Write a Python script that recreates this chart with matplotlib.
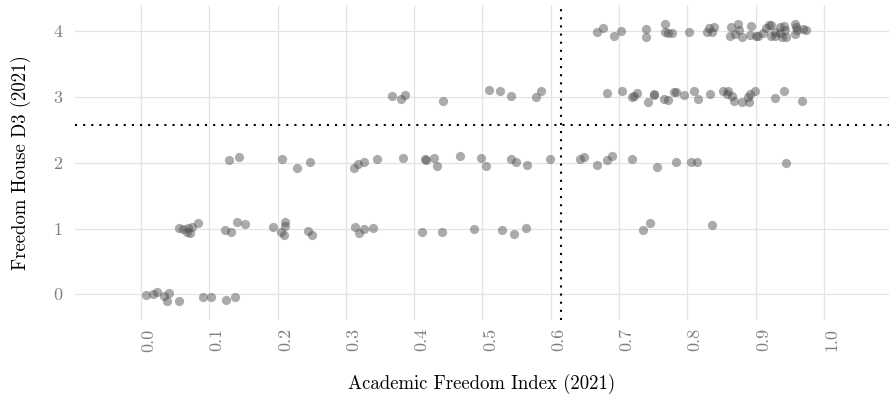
import matplotlib
matplotlib.use("Agg")
import matplotlib.pyplot as plt
import numpy as np

# ---- data (vertical jitter as it appears) ----
row0_x = [0.008, 0.017, 0.023, 0.034, 0.041, 0.038, 0.056, 0.091, 0.102, 0.124, 0.138]
row0_y = [-0.011, 0.005, 0.030, -0.026, 0.015, -0.102, -0.097, -0.041, -0.046, -0.091, -0.041]

row1_x = [0.056, 0.062, 0.069, 0.075, 0.068, 0.072, 0.084, 0.123, 0.132, 0.140, 0.153,
          0.194, 0.211, 0.211, 0.205, 0.209, 0.244, 0.250, 0.314, 0.319, 0.327, 0.339,
          0.411, 0.441, 0.488, 0.528, 0.546, 0.564, 0.735, 0.746, 0.836]
row1_y = [1.013, 0.993, 1.013, 1.016, 0.940, 0.932, 1.081, 0.978, 0.944, 1.095, 1.069,
          1.016, 1.097, 1.039, 0.944, 0.906, 0.967, 0.905, 1.028, 0.928, 0.993, 1.004,
          0.952, 0.952, 0.993, 0.983, 0.917, 1.004, 0.978, 1.077, 1.049]

row2_x = [0.129, 0.143, 0.206, 0.228, 0.247, 0.312, 0.318, 0.327, 0.345, 0.384, 0.416,
          0.417, 0.429, 0.433, 0.467, 0.498, 0.505, 0.542, 0.549, 0.565, 0.599, 0.643,
          0.649, 0.668, 0.682, 0.690, 0.719, 0.755, 0.784, 0.805, 0.814, 0.945]
row2_y = [2.043, 2.088, 2.058, 1.921, 2.008, 1.925, 1.986, 2.017, 2.058, 2.073, 2.058,
          2.050, 2.073, 1.947, 2.099, 2.073, 1.956, 2.053, 2.017, 1.967, 2.058, 2.058,
          2.088, 1.967, 2.043, 2.099, 2.053, 1.932, 2.012, 2.008, 2.012, 1.992]

row3_x = [0.368, 0.380, 0.386, 0.442, 0.509, 0.526, 0.542, 0.579, 0.585, 0.683, 0.704,
          0.719, 0.722, 0.726, 0.742, 0.751, 0.751, 0.766, 0.771, 0.781, 0.783, 0.795,
          0.810, 0.816, 0.833, 0.852, 0.860, 0.858, 0.865, 0.868, 0.880, 0.890, 0.889,
          0.892, 0.899, 0.929, 0.941, 0.968]
row3_y = [3.016, 2.975, 3.031, 2.944, 3.103, 3.087, 3.021, 3.001, 3.097, 3.054, 3.092,
          3.005, 3.016, 3.054, 2.920, 3.046, 3.031, 2.970, 2.955, 3.077, 3.077, 3.027,
          3.097, 2.970, 3.046, 3.092, 3.092, 3.046, 3.016, 2.935, 2.925, 2.925, 2.996,
          3.051, 3.087, 2.990, 3.087, 2.944]

row4_x = [0.668, 0.676, 0.692, 0.703, 0.740, 0.740, 0.767, 0.767, 0.772, 0.777, 0.803,
          0.828, 0.832, 0.839, 0.836, 0.862, 0.864, 0.869, 0.874, 0.875, 0.880, 0.893,
          0.891, 0.901, 0.904, 0.911, 0.915, 0.919, 0.923, 0.922, 0.928, 0.928, 0.935,
          0.941, 0.936, 0.938, 0.944, 0.943, 0.958, 0.959, 0.960, 0.958, 0.969, 0.974]
row4_y = [3.982, 4.055, 3.929, 4.000, 4.040, 3.910, 4.106, 3.989, 3.979, 3.970, 3.986,
          3.982, 4.050, 4.061, 3.989, 3.921, 4.068, 3.954, 4.106, 4.027, 3.910, 4.076,
          3.951, 3.925, 3.924, 3.971, 4.050, 4.091, 4.099, 3.936, 3.989, 3.925, 4.070,
          4.084, 3.967, 3.916, 3.913, 4.015, 4.108, 4.070, 4.027, 3.954, 4.030, 4.023]

x_mean = 0.615
y_mean = 2.575

x_ticks = [0.0, 0.1, 0.2, 0.3, 0.4, 0.5, 0.6, 0.7, 0.8, 0.9, 1.0]
y_ticks = [0, 1, 2, 3, 4]
x_title = "Academic Freedom Index (2021)"
y_title = "Freedom House D3 (2021)"

# ---- figure ----
plt.rcParams['font.family'] = ['cmr10', 'DejaVu Serif']
plt.rcParams['axes.formatter.use_mathtext'] = True

W, H = 889, 395
fig = plt.figure(figsize=(W / 100, H / 100), dpi=100)
ax = fig.add_axes([75 / W, 1 - 320 / H, (889 - 75) / W, (320 - 5) / H])

xs = row0_x + row1_x + row2_x + row3_x + row4_x
ys = row0_y + row1_y + row2_y + row3_y + row4_y
ax.scatter(xs, ys, s=44, color='#4d4d4d', alpha=0.47, linewidths=0, zorder=3)

ax.axvline(x_mean, color='black', lw=1.5, linestyle=(0, (1, 2.9)), zorder=4)
ax.axhline(y_mean, color='black', lw=1.5, linestyle=(0, (1, 2.9)), zorder=4)

ax.set_xlim(-0.0966, 1.0952)
ax.set_ylim(-0.391, 4.40)
ax.set_xticks(x_ticks)
ax.set_xticklabels([f"{t:.1f}" for t in x_ticks], rotation=90, ha='left')
ax.set_yticks(y_ticks)
ax.set_yticklabels([str(t) for t in y_ticks])
ax.tick_params(axis='both', length=0, labelsize=13, labelcolor='#7f7f7f')
ax.tick_params(axis='x', pad=6)
ax.tick_params(axis='y', pad=9)

ax.grid(True, color='#e3e3e3', lw=0.9, zorder=0)
ax.set_axisbelow(True)
for sp in ax.spines.values():
    sp.set_visible(False)

ax.set_xlabel(x_title, fontsize=13.5, labelpad=16)
ax.set_ylabel(y_title, fontsize=13.5, labelpad=16)

fig.savefig("out.png", dpi=100)
